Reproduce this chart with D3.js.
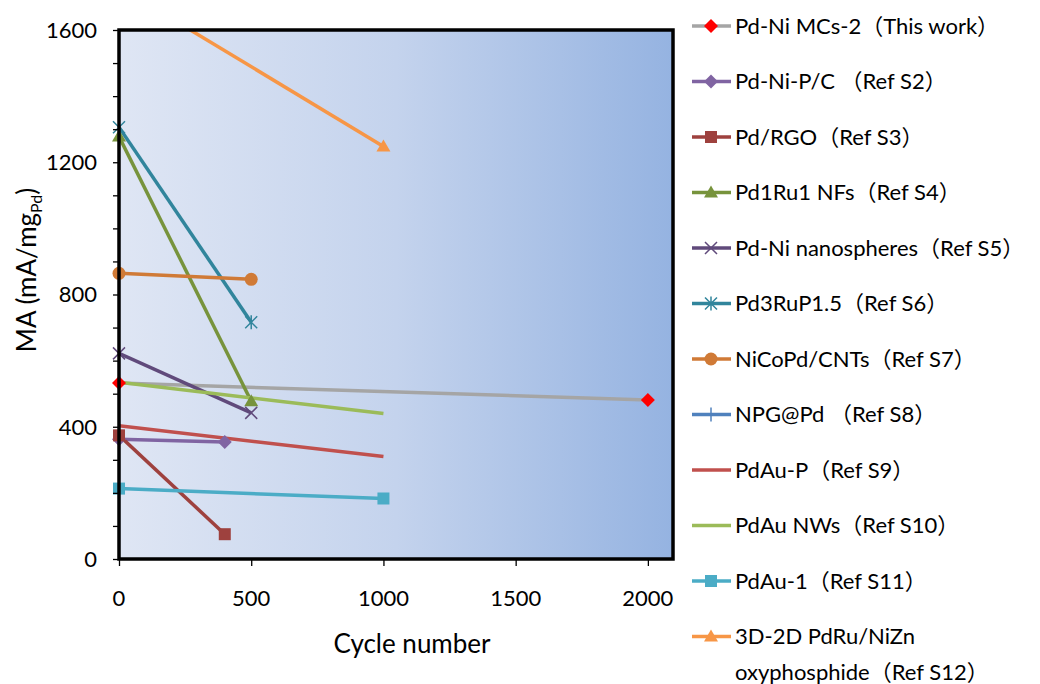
<!DOCTYPE html>
<html>
<head>
<meta charset="utf-8">
<script src="https://cdn.jsdelivr.net/npm/d3@7"></script>
<style>
  body { margin: 0; background: #fff; }
  text { font-family: Lato, "Noto Sans", "Noto Sans CJK SC", sans-serif; fill: #000; }
</style>
</head>
<body>
<div id="chart"></div>
<script>
// series data: [cycle, MA]
var seriesNames = [
  "Pd-Ni MCs-2（This work）",
  "Pd-Ni-P/C （Ref S2）",
  "Pd/RGO（Ref S3）",
  "Pd1Ru1 NFs（Ref S4）",
  "Pd-Ni nanospheres（Ref S5）",
  "Pd3RuP1.5（Ref S6）",
  "NiCoPd/CNTs（Ref S7）",
  "NPG@Pd （Ref S8）",
  "PdAu-P（Ref S9）",
  "PdAu NWs（Ref S10）",
  "PdAu-1（Ref S11）",
  "3D-2D PdRu/NiZn|oxyphosphide（Ref S12）"
];
var seriesCycles = [
  [0, 2000], [0, 400], [0, 400], [0, 500], [0, 500], [0, 500],
  [0, 500], [], [0, 1000], [0, 1000], [0, 1000], [0, 1000]
];
var seriesValues = [
  [532, 481], [362, 354], [374, 75], [1278, 477], [622, 442], [1306, 716],
  [864, 846], [], [403, 310], [535, 440], [213, 183], [1730, 1248]
];
var lineColors = ["#a5a5a5", "#8064a2", "#9e413e", "#77933c", "#604a7b", "#31859c",
  "#d07a36", "#4f81bd", "#c0504d", "#9bbb59", "#4bacc6", "#f79646"];
var markerColors = ["#ff0000", "#8064a2", "#9e413e", "#77933c", "#604a7b", "#31859c",
  "#d07a36", "#4f81bd", "#c0504d", "#9bbb59", "#4bacc6", "#f79646"];
var markerTypes = ["diamond", "diamond", "square", "triangle", "x", "star",
  "circle", "plus", "none", "none", "square", "triangle"];

var xTicks = [0, 500, 1000, 1500, 2000];
var yTicks = [0, 400, 800, 1200, 1600];

var width = 1040, height = 684;
var plot = { left: 119, top: 30, right: 673, bottom: 559 };

var svg = d3.select("#chart").append("svg")
  .attr("width", width)
  .attr("height", height);

var x = d3.scaleLinear().domain([0, 2095]).range([plot.left, plot.right]);
var y = d3.scaleLinear().domain([0, 1600]).range([plot.bottom, plot.top]);

var defs = svg.append("defs");
var grad = defs.append("linearGradient").attr("id", "bg")
  .attr("x1", "0%").attr("x2", "100%").attr("y1", "0%").attr("y2", "0%");
grad.append("stop").attr("offset", "0%").attr("stop-color", "#dfe6f4");
grad.append("stop").attr("offset", "50%").attr("stop-color", "#c4d3ed");
grad.append("stop").attr("offset", "100%").attr("stop-color", "#95b3e1");

defs.append("clipPath").attr("id", "clip")
  .append("rect")
  .attr("x", plot.left).attr("y", plot.top)
  .attr("width", plot.right - plot.left).attr("height", plot.bottom - plot.top);

svg.append("rect")
  .attr("x", plot.left).attr("y", plot.top)
  .attr("width", plot.right - plot.left).attr("height", plot.bottom - plot.top)
  .attr("fill", "url(#bg)");

// marker drawing
function drawMarker(g, type, color, cx, cy) {
  if (type === "diamond") {
    var s = 7;
    g.append("path").attr("d", "M" + cx + "," + (cy - s) + "L" + (cx + s) + "," + cy +
      "L" + cx + "," + (cy + s) + "L" + (cx - s) + "," + cy + "Z").attr("fill", color);
  } else if (type === "square") {
    g.append("rect").attr("x", cx - 6).attr("y", cy - 6).attr("width", 12).attr("height", 12)
      .attr("fill", color);
  } else if (type === "triangle") {
    g.append("path").attr("d", "M" + cx + "," + (cy - 7) + "L" + (cx + 7) + "," + (cy + 5) +
      "L" + (cx - 7) + "," + (cy + 5) + "Z").attr("fill", color);
  } else if (type === "circle") {
    g.append("circle").attr("cx", cx).attr("cy", cy).attr("r", 6.5).attr("fill", color);
  } else if (type === "x" || type === "star") {
    var r = 6;
    var d = "M" + (cx - r) + "," + (cy - r) + "L" + (cx + r) + "," + (cy + r) +
      "M" + (cx - r) + "," + (cy + r) + "L" + (cx + r) + "," + (cy - r);
    if (type === "star") d += "M" + cx + "," + (cy - r - 1) + "L" + cx + "," + (cy + r + 1);
    g.append("path").attr("d", d).attr("stroke", color).attr("stroke-width", 1.5).attr("fill", "none");
  } else if (type === "plus") {
    g.append("path").attr("d", "M" + cx + "," + (cy - 7) + "L" + cx + "," + (cy + 7))
      .attr("stroke", color).attr("stroke-width", 1.5);
  }
}

// series lines
var lineGen = d3.line().x(function(d) { return x(d[0]); }).y(function(d) { return y(d[1]); });
var plotG = svg.append("g").attr("clip-path", "url(#clip)");

seriesNames.forEach(function(name, i) {
  var pts = seriesCycles[i].map(function(c, j) { return [c, seriesValues[i][j]]; });
  if (!pts.length) return;
  plotG.append("path")
    .datum(pts)
    .attr("d", lineGen)
    .attr("fill", "none")
    .attr("stroke", lineColors[i])
    .attr("stroke-width", 3.5);
});
var markG = svg.append("g");
seriesNames.forEach(function(name, i) {
  seriesCycles[i].forEach(function(c, j) {
    var v = seriesValues[i][j];
    if (v > 1600) return;
    drawMarker(markG, markerTypes[i], markerColors[i], x(c), y(v));
  });
});

// axes
var yAxis = d3.axisLeft(y).tickValues(d3.range(0, 1601, 100)).tickSize(6).tickFormat("");
svg.append("g").attr("transform", "translate(" + plot.left + ",0)").call(yAxis)
  .call(function(g) { g.select(".domain").remove(); g.selectAll("line").attr("stroke", "#000").attr("stroke-width", 1.3); });
var xAxis = d3.axisBottom(x).tickValues(xTicks).tickSize(7).tickFormat("");
svg.append("g").attr("transform", "translate(0," + plot.bottom + ")").call(xAxis)
  .call(function(g) { g.select(".domain").remove(); g.selectAll("line").attr("stroke", "#000").attr("stroke-width", 1.3); });

// plot border
svg.append("rect")
  .attr("x", plot.left).attr("y", plot.top)
  .attr("width", plot.right - plot.left).attr("height", plot.bottom - plot.top)
  .attr("fill", "none").attr("stroke", "#000").attr("stroke-width", 3.5);

svg.selectAll(".ylab").data(yTicks).enter().append("text")
  .attr("class", "ylab")
  .attr("x", 97).attr("y", function(d) { return y(d); })
  .attr("dy", "0.36em")
  .attr("text-anchor", "end")
  .style("font-size", "22px")
  .text(function(d) { return d; });

svg.selectAll(".xlab").data(xTicks).enter().append("text")
  .attr("class", "xlab")
  .attr("x", function(d) { return x(d); }).attr("y", 606)
  .attr("text-anchor", "middle")
  .style("font-size", "22px")
  .text(function(d) { return d; });

svg.append("text")
  .attr("x", 412).attr("y", 653)
  .attr("text-anchor", "middle")
  .style("font-size", "26px")
  .text("Cycle number");

var yt = svg.append("text")
  .attr("transform", "translate(36,270) rotate(-90)")
  .attr("text-anchor", "middle")
  .style("font-size", "26px");
yt.append("tspan").text("MA (mA/mg");
yt.append("tspan").attr("dy", 6).style("font-size", "16px").text("Pd");
yt.append("tspan").attr("dy", -6).text(")");

// legend
var leg = svg.append("g");
seriesNames.forEach(function(name, i) {
  var cy = 26 + i * 55.5;
  var g = leg.append("g");
  g.append("line").attr("x1", 692).attr("x2", 731).attr("y1", cy).attr("y2", cy)
    .attr("stroke", lineColors[i]).attr("stroke-width", 3.5);
  drawMarker(g, markerTypes[i], markerColors[i], 711, cy);
  var parts = name.split("|");
  parts.forEach(function(p, k) {
    g.append("text").attr("x", 735).attr("y", cy + k * 36)
      .attr("dy", "0.36em")
      .style("font-size", "22px")
      .text(p);
  });
});
</script>
</body>
</html>
